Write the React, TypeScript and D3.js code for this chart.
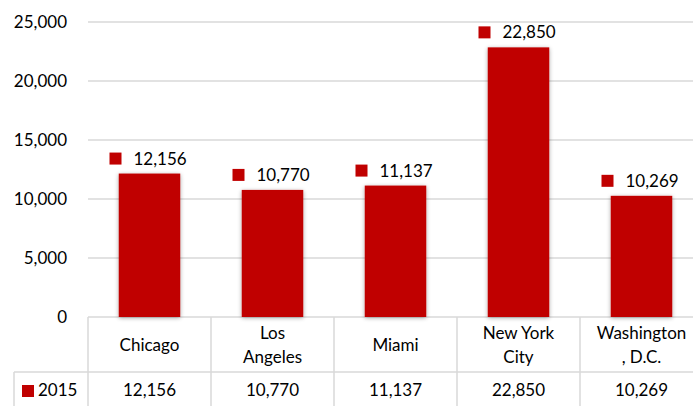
import React from "react";
import * as d3 from "d3";

const categories = ["Chicago", "Los Angeles", "Miami", "New York City", "Washington, D.C."];
const categoryLines = [["Chicago"], ["Los", "Angeles"], ["Miami"], ["New York", "City"], ["Washington", ", D.C."]];
const values2015 = [12156, 10770, 11137, 22850, 10269];
const seriesName = "2015";
const yTicks = [0, 5000, 10000, 15000, 20000, 25000];

const W = 693;
const H = 406;
const RED = "#C00000";
const GRID = "#d9d9d9";
const FONT = "Lato, 'Open Sans', sans-serif";
const FS = 17;

export default function App() {
  const x = d3.scaleBand<string>().domain(categories).range([88, 88 + 123 * categories.length]).paddingInner(0).paddingOuter(0);
  const y = d3.scaleLinear().domain([0, 25000]).range([317, 22]);
  const fmt = d3.format(",");
  const bw = x.bandwidth() * 0.5;
  const rowTop = 317;
  const rowMid = 372;
  const rowBot = 410;

  return (
    <svg width={W} height={H} style={{ position: "absolute", left: 0, top: 0, background: "#fff" }} fontFamily={FONT}>
      <defs>
        <filter id="shadow" x="-20%" y="-10%" width="140%" height="130%">
          <feGaussianBlur in="SourceAlpha" stdDeviation="2" />
          <feOffset dx="0" dy="1" result="b" />
          <feComponentTransfer><feFuncA type="linear" slope="0.35" /></feComponentTransfer>
          <feMerge><feMergeNode /><feMergeNode in="SourceGraphic" /></feMerge>
        </filter>
      </defs>
      {yTicks.map((t) => (
        <g key={t}>
          {t > 0 && <line x1={88} x2={W} y1={y(t)} y2={y(t)} stroke={GRID} strokeWidth={1.5} />}
          <text x={67} y={y(t)} dy="0.35em" textAnchor="end" fontSize={FS} fill="#000">{fmt(t)}</text>
        </g>
      ))}
      {/* data table grid */}
      <line x1={88} x2={W} y1={rowTop} y2={rowTop} stroke={GRID} strokeWidth={1.5} />
      <line x1={14} x2={W} y1={rowMid} y2={rowMid} stroke={GRID} strokeWidth={1.5} />
      <line x1={14} x2={14} y1={rowMid} y2={rowBot} stroke={GRID} strokeWidth={1.5} />
      {categories.map((c) => (
        <line key={c} x1={x(c)!} x2={x(c)!} y1={rowTop} y2={rowBot} stroke={GRID} strokeWidth={1.5} />
      ))}
      {/* bars */}
      {categories.map((c, i) => (
        <rect key={c} x={x(c)! + (x.bandwidth() - bw) / 2} y={y(values2015[i])} width={bw} height={y(0) - y(values2015[i])} fill={RED} filter="url(#shadow)" />
      ))}
      {/* data labels with legend key */}
      {categories.map((c, i) => {
        const cx = x(c)! + x.bandwidth() / 2;
        const ly = y(values2015[i]) - 15;
        return (
          <g key={c}>
            <rect x={cx - 40} y={ly - 6} width={12} height={12} fill={RED} />
            <text x={cx - 16} y={ly} dy="0.35em" fontSize={FS} fill="#000">{fmt(values2015[i])}</text>
          </g>
        );
      })}
      {/* table text */}
      {categories.map((c, i) => {
        const cx = x(c)! + x.bandwidth() / 2;
        const lines = categoryLines[i];
        const mid = (rowTop + rowMid) / 2 + 1;
        return (
          <g key={c}>
            {lines.map((l, j) => (
              <text key={j} x={cx} y={mid + (j - (lines.length - 1) / 2) * 24} dy="0.35em" textAnchor="middle" fontSize={FS} fill="#000">{l}</text>
            ))}
            <text x={cx} y={390} dy="0.35em" textAnchor="middle" fontSize={FS} fill="#000">{fmt(values2015[i])}</text>
          </g>
        );
      })}
      <rect x={22} y={385} width={12} height={12} fill={RED} />
      <text x={38} y={390} dy="0.35em" fontSize={FS} fill="#000">{seriesName}</text>
    </svg>
  );
}
